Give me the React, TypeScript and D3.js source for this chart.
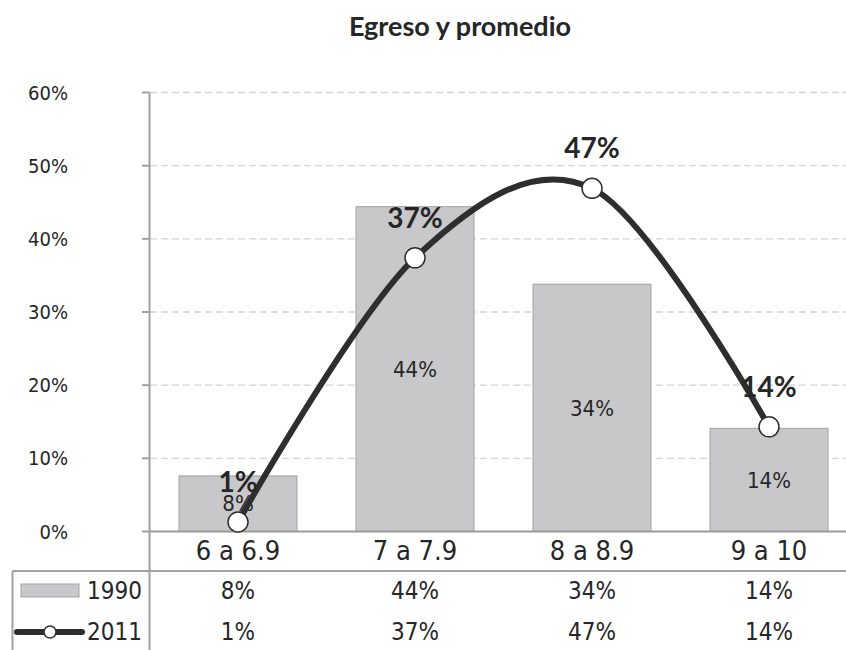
import React from "react";
import * as d3 from "d3";

// Grade ranges and share of graduates in each range
const categories = ["6 a 6.9", "7 a 7.9", "8 a 8.9", "9 a 10"];
const series1990 = [0.076, 0.444, 0.338, 0.141];
const series2011 = [0.013, 0.374, 0.469, 0.143];
const seriesNames = ["1990", "2011"];
const yTicks = [0, 0.1, 0.2, 0.3, 0.4, 0.5, 0.6];
const title = "Egreso y promedio";

const W = 846;
const H = 650;
const numFont = "'DejaVu Sans Condensed', 'DejaVu Sans', sans-serif";
const titleFont = "Lato, 'Open Sans', sans-serif";
const textColor = "#262626";
const barFill = "#c8c8cb";
const barStroke = "#a3a3a6";
const lineColor = "#2e2e2e";

const pct = d3.format(".0%");

export default function App() {
  const x = d3.scaleBand<string>().domain(categories).range([149.5, 857.5]);
  const y = d3.scaleLinear().domain([0, 0.6]).range([531.5, 92.5]);
  const bw = (x.bandwidth() * 2) / 3;
  const cx = (c: string) => (x(c) as number) + x.bandwidth() / 2;

  const line = d3
    .line<number>()
    .x((_, i) => cx(categories[i]))
    .y((d) => y(d))
    .curve(d3.curveCardinal.tension(0));

  const tableTop = 571;
  const row1 = 591;
  const row2 = 632;

  return (
    <svg
      width={W}
      height={H}
      style={{ position: "absolute", left: 0, top: 0, background: "#fff" }}
    >
      <text
        x={460}
        y={36}
        textAnchor="middle"
        fontFamily={titleFont}
        fontWeight={700}
        fontSize={27}
        fill={textColor}
      >
        {title}
      </text>

      {/* gridlines */}
      {yTicks.slice(1).map((t) => (
        <line
          key={"g" + t}
          x1={150}
          x2={W}
          y1={y(t)}
          y2={y(t)}
          stroke="#d4d4d4"
          strokeWidth={1.3}
          strokeDasharray="7,4"
        />
      ))}

      {/* y axis */}
      <line x1={149.5} x2={149.5} y1={y(0.6)} y2={H} stroke="#a0a0a0" strokeWidth={2} />
      {yTicks.map((t) => (
        <g key={"t" + t}>
          <line x1={142} x2={149.5} y1={y(t)} y2={y(t)} stroke="#a0a0a0" strokeWidth={2} />
          <text
            x={68}
            y={y(t)}
            dy="0.35em"
            textAnchor="end"
            fontFamily={numFont}
            fontSize={20}
            fill={textColor}
          >
            {pct(t)}
          </text>
        </g>
      ))}

      {/* 1990 bars */}
      {series1990.map((v, i) => (
        <g key={"b" + i}>
          <rect
            x={cx(categories[i]) - bw / 2}
            y={y(v)}
            width={bw}
            height={y(0) - y(v)}
            fill={barFill}
            stroke={barStroke}
            strokeWidth={1}
          />
          <text
            x={cx(categories[i])}
            y={(y(v) + y(0)) / 2}
            dy="0.35em"
            textAnchor="middle"
            fontFamily={numFont}
            fontSize={22}
            fill={textColor}
          >
            {pct(v)}
          </text>
        </g>
      ))}

      {/* baseline */}
      <line x1={149.5} x2={W} y1={y(0)} y2={y(0)} stroke="#9a9a9a" strokeWidth={2} />

      {/* 2011 smoothed line */}
      <path d={line(series2011) as string} fill="none" stroke={lineColor} strokeWidth={6} />
      {series2011.map((v, i) => (
        <g key={"p" + i}>
          <circle
            cx={cx(categories[i])}
            cy={y(v)}
            r={10}
            fill="#fff"
            stroke={lineColor}
            strokeWidth={1.5}
          />
          <text
            x={cx(categories[i])}
            y={y(v) - 40}
            dy="0.35em"
            textAnchor="middle"
            fontFamily={titleFont}
            fontWeight={700}
            fontSize={28}
            fill={textColor}
          >
            {pct(v)}
          </text>
        </g>
      ))}

      {/* category labels */}
      {categories.map((c) => (
        <text
          key={"c" + c}
          x={cx(c)}
          y={551}
          dy="0.35em"
          textAnchor="middle"
          fontFamily={numFont}
          fontSize={27}
          fill={textColor}
        >
          {c}
        </text>
      ))}

      {/* data table */}
      <line x1={12.5} x2={W} y1={tableTop} y2={tableTop} stroke="#a0a0a0" strokeWidth={2} />
      <line x1={12.5} x2={12.5} y1={tableTop} y2={H} stroke="#a0a0a0" strokeWidth={2} />

      <rect x={21} y={584} width={58} height={13} fill={barFill} stroke={barStroke} strokeWidth={1} />
      <text x={142} y={row1} dy="0.35em" textAnchor="end" fontFamily={numFont} fontSize={24} fill={textColor}>
        {seriesNames[0]}
      </text>
      <line x1={17} x2={82} y1={row2} y2={row2} stroke={lineColor} strokeWidth={6} strokeLinecap="round" />
      <circle cx={50} cy={row2} r={6} fill="#fff" stroke={lineColor} strokeWidth={1.5} />
      <text x={142} y={row2} dy="0.35em" textAnchor="end" fontFamily={numFont} fontSize={24} fill={textColor}>
        {seriesNames[1]}
      </text>

      {series1990.map((v, i) => (
        <text
          key={"r1" + i}
          x={cx(categories[i])}
          y={row1}
          dy="0.35em"
          textAnchor="middle"
          fontFamily={numFont}
          fontSize={24}
          fill={textColor}
        >
          {pct(v)}
        </text>
      ))}
      {series2011.map((v, i) => (
        <text
          key={"r2" + i}
          x={cx(categories[i])}
          y={row2}
          dy="0.35em"
          textAnchor="middle"
          fontFamily={numFont}
          fontSize={24}
          fill={textColor}
        >
          {pct(v)}
        </text>
      ))}
    </svg>
  );
}
